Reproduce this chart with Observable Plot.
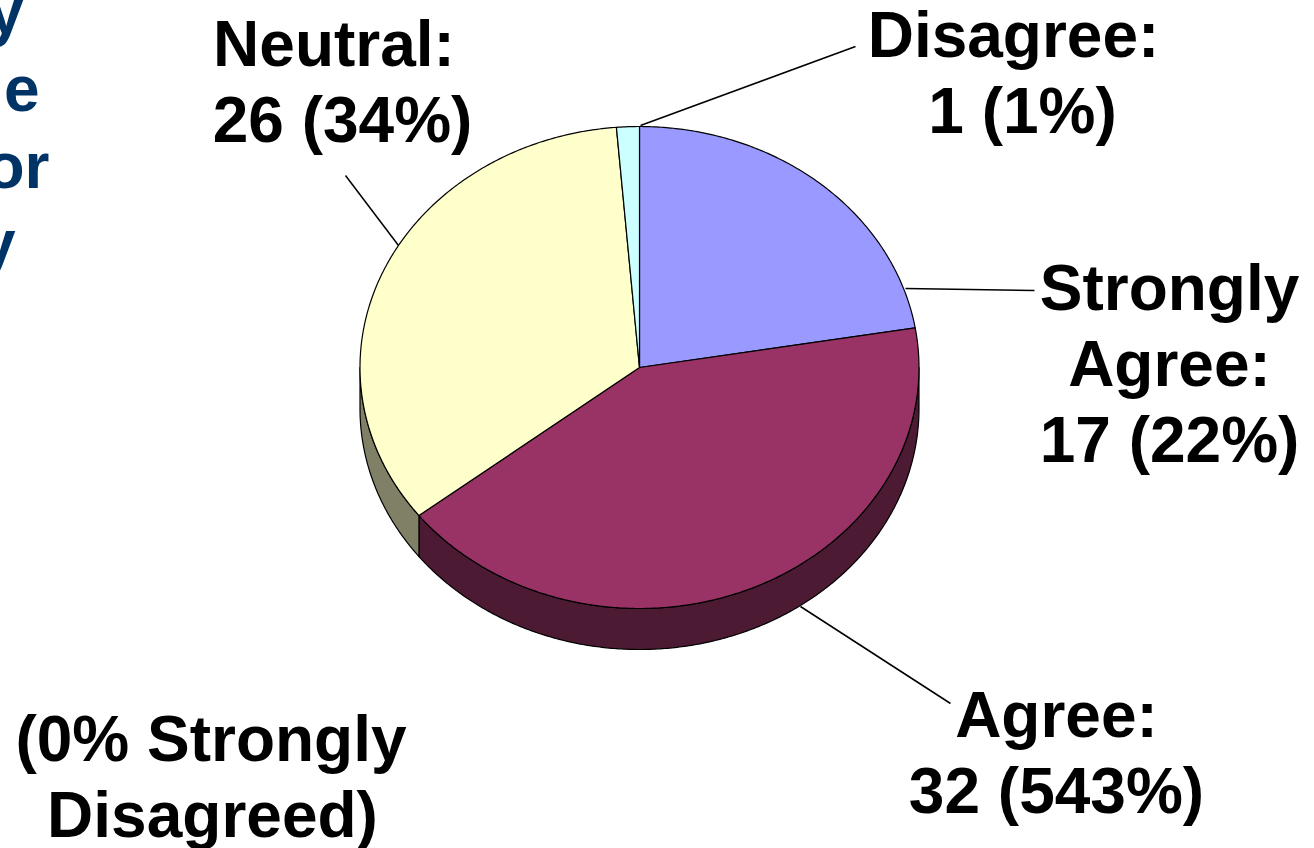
<!DOCTYPE html>
<html>
<head>
<meta charset="utf-8">
<script src="https://cdn.jsdelivr.net/npm/d3@7"></script>
<script src="https://cdn.jsdelivr.net/npm/@observablehq/plot@0.6"></script>
<style>
  html, body { margin: 0; padding: 0; background: #fff; overflow: hidden; }
  svg { display: block; }
</style>
</head>
<body>
<script>
// Survey responses, clockwise from twelve o'clock
const categories = ["Strongly Agree", "Agree", "Neutral", "Disagree"];
const counts = [17, 32, 26, 1];
const statedPercents = [22, 543, 34, 1];
const topColors = ["#9999ff", "#993366", "#ffffcc", "#ccffff"];
const sideColors = ["#4d4d80", "#4d1a33", "#808066", "#668080"];

// Tilted pie geometry in chart units
const pie = {cx: 639, cy: 367, rx: 279.5, ry: 241, depth: 41};

const total = d3.sum(counts);
const stops = d3.cumsum(counts).map((c) => (c / total) * 360);
const starts = [0, ...stops.slice(0, -1)];

const rim = (deg, drop = 0) => {
  const t = (deg * Math.PI) / 180;
  return {x: pie.cx + pie.rx * Math.sin(t), y: pie.cy - pie.ry * Math.cos(t) + drop};
};
const sweep = (a, b) => {
  const n = Math.max(2, Math.ceil((b - a) * 2));
  return d3.range(n + 1).map((i) => a + ((b - a) * i) / n);
};

// Top faces: centre point plus the rim arc
const topRows = categories.flatMap((name, i) =>
  [{x: pie.cx, y: pie.cy}, ...sweep(starts[i], stops[i]).map((d) => rim(d))].map((p) => ({
    ...p, id: name, color: topColors[i]
  }))
);

// Side walls: only the front half of the rim (90 to 270 degrees) can be seen
const sideRows = categories.flatMap((name, i) => {
  const a = Math.max(starts[i], 90);
  const b = Math.min(stops[i], 270);
  if (b <= a) return [];
  const arc = sweep(a, b);
  return [...arc.map((d) => rim(d)), ...arc.slice().reverse().map((d) => rim(d, pie.depth))].map((p) => ({
    ...p, id: name, color: sideColors[i]
  }));
});

// Label placement: centre of each text line and its baseline
const labelAnchors = [
  {x: 1169, lines: [[1169, 309, "Strongly"], [1169, 385, "Agree:"]], y: 461},
  {x: 1056, lines: [[1056, 736, "Agree:"]], y: 812},
  {x: 342, lines: [[333.5, 65, "Neutral:"]], y: 141},
  {x: 1022, lines: [[1013, 56, "Disagree:"]], y: 132}
];
const labelRows = categories.flatMap((name, i) => {
  const a = labelAnchors[i];
  return [
    ...a.lines.map(([x, y, text]) => ({x, y, text})),
    {x: a.x, y: a.y, text: `${counts[i]} (${statedPercents[i]}%)`}
  ];
});

const noteRows = [
  {x: 210.5, y: 760, text: "(0% Strongly"},
  {x: 212, y: 836, text: "Disagreed)"}
];

// Heading that runs off the left edge of the page
const headingRows = [
  {x: 23, y: 33.5, text: "y"},
  {x: 39, y: 110, text: "ne"},
  {x: 49, y: 187, text: "or"},
  {x: 15, y: 264, text: "y"}
];

// Leader lines from each slice's rim out to its label
const leaders = [
  {id: "Strongly Agree", x: 905, y: 288}, {id: "Strongly Agree", x: 1034, y: 290},
  {id: "Agree", x: 800, y: 606}, {id: "Agree", x: 950, y: 703},
  {id: "Neutral", x: 398, y: 245}, {id: "Neutral", x: 345, y: 175},
  {id: "Disagree", x: 640, y: 125}, {id: "Disagree", x: 855, y: 46}
];

const textStyle = {
  fontFamily: "'Liberation Sans', Arial, sans-serif",
  fontWeight: "bold",
  fontSize: 64,
  lineAnchor: "bottom"
};

const chart = Plot.plot({
  width: 1314,
  height: 848,
  margin: 0,
  x: {domain: [0, 1314], range: [0, 1314], axis: null},
  y: {domain: [0, 848], range: [0, 848], axis: null},
  color: {type: "identity"},
  marks: [
    Plot.line(sideRows, {x: "x", y: "y", z: "id", fill: "color", stroke: "#000", strokeWidth: 1.2, curve: "linear-closed"}),
    Plot.line(topRows, {x: "x", y: "y", z: "id", fill: "color", stroke: "#000", strokeWidth: 1.2, curve: "linear-closed"}),
    Plot.line(leaders, {x: "x", y: "y", z: "id", stroke: "#000", strokeWidth: 1.5, strokeLinecap: "butt"}),
    Plot.text(labelRows, {x: "x", y: "y", text: "text", fill: "#000", textAnchor: "middle", ...textStyle}),
    Plot.text(noteRows, {x: "x", y: "y", text: "text", fill: "#000", textAnchor: "middle", ...textStyle}),
    Plot.text(headingRows, {x: "x", y: "y", text: "text", fill: "#003366", textAnchor: "end", ...textStyle})
  ]
});
document.body.appendChild(chart);
</script>
</body>
</html>
